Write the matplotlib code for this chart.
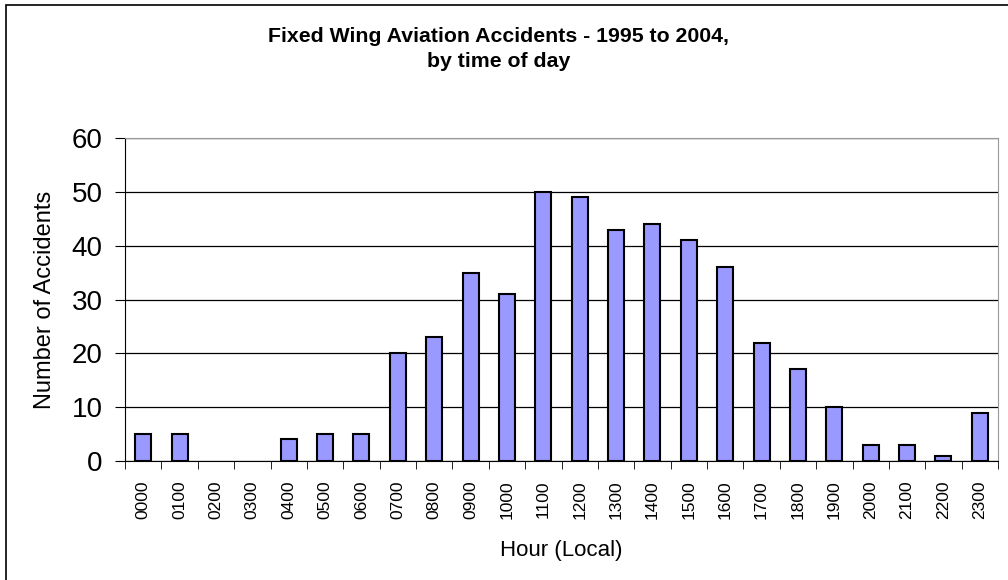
import matplotlib.pyplot as plt
from matplotlib.patches import Rectangle

hours = ["0000", "0100", "0200", "0300", "0400", "0500", "0600", "0700",
         "0800", "0900", "1000", "1100", "1200", "1300", "1400", "1500",
         "1600", "1700", "1800", "1900", "2000", "2100", "2200", "2300"]
accidents = [5, 5, 0, 0, 4, 5, 5, 20, 23, 35, 31, 50, 49, 43, 44, 41,
             36, 22, 17, 10, 3, 3, 1, 9]
y_ticks = [0, 10, 20, 30, 40, 50, 60]

plt.rcParams['font.family'] = ['Liberation Sans', 'DejaVu Sans']

fig = plt.figure(figsize=(10.08, 5.8), dpi=100)
ax = fig.add_axes([125 / 1008, 1 - 461 / 580, 873 / 1008, 323 / 580])

x = list(range(len(hours)))
# Excel does not outline empty bars
edge_w = [1.5 if v > 0 else 0 for v in accidents]
ax.bar(x, accidents, width=0.44, color="#9999FF", edgecolor="black",
       linewidth=edge_w, zorder=3)

ax.set_xlim(-0.5, len(hours) - 0.5)
ax.set_ylim(0, 60)
ax.set_yticks(y_ticks)
ax.tick_params(axis="y", labelsize=20, length=7, direction="out", pad=9)
ax.yaxis.grid(True, color="black", linewidth=0.9, zorder=0)

# categories labelled at centre, ticks between categories
ax.set_xticks(x)
ax.set_xticklabels(hours, rotation=90, fontsize=12.5)
ax.tick_params(axis="x", which="major", length=0, pad=14)
ax.set_xticks([i - 0.5 for i in range(len(hours) + 1)], minor=True)
ax.tick_params(axis="x", which="minor", length=6, direction="out", color="black")

for side in ["top", "right"]:
    ax.spines[side].set_color("#999999")
for side in ["left", "bottom"]:
    ax.spines[side].set_color("black")

ax.set_ylabel("Number of Accidents", fontsize=17, labelpad=11)
ax.set_xlabel("Hour (Local)", fontsize=16, labelpad=15)

fig.text(0.495, 0.915, "Fixed Wing Aviation Accidents - 1995 to 2004,\nby time of day",
         ha="center", va="center", fontsize=15.3, fontweight="bold",
         linespacing=1.4)

# outer chart border
fig.patches.append(Rectangle((6 / 1008, -0.02), 1.1, 1 - 5 / 580 + 0.02,
                             transform=fig.transFigure, fill=False,
                             edgecolor="black", linewidth=1.2))

fig.savefig("out.png", dpi=100)
